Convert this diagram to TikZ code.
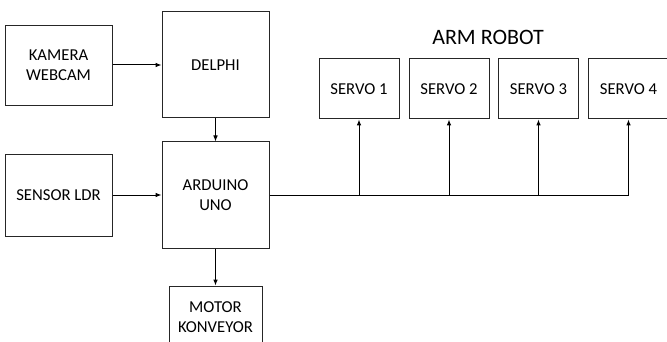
\documentclass[tikz,border=0pt]{standalone}
\usepackage{fontspec}
\setmainfont{Carlito}
\usetikzlibrary{arrows.meta}

\tikzset{every picture/.style={line width=0.75pt}}
\tikzset{
  blok/.style={draw=black!85, inner sep=0pt, align=center, font=\fontsize{12.5}{15}\selectfont},
  panah/.style={-{Latex[length=4.5pt,width=3.5pt]}},
}

\begin{document}
\begin{tikzpicture}[x=0.75pt,y=0.75pt,yscale=-1,xscale=1]
\useasboundingbox (0,0) rectangle (667,342);

%Shape: Rectangle [kamera]
\node [blok, minimum width=80.25pt, minimum height=60pt] (kamera) at (58.5,65.5) {KAMERA\\WEBCAM};
%Shape: Rectangle [delphi]
\node [blok, minimum width=80.25pt, minimum height=79.5pt] (delphi) at (215.5,65) {DELPHI};
%Shape: Rectangle [sensor]
\node [blok, minimum width=80.25pt, minimum height=60.75pt] (sensor) at (58.5,195.5) {SENSOR LDR};
%Shape: Rectangle [arduino]
\node [blok, minimum width=80.25pt, minimum height=79.5pt] (arduino) at (215.5,195) {ARDUINO\\UNO};
%Shape: Rectangle [motor]
\node [blok, minimum width=69.75pt, minimum height=46.5pt] (motor) at (215.5,317) {MOTOR\\KONVEYOR};
%Shape: Rectangle [servo 1-4]
\node [blok, minimum width=60pt, minimum height=45pt] (servo1) at (359,89) {SERVO 1};
\node [blok, minimum width=60pt, minimum height=45pt] (servo2) at (449,89) {SERVO 2};
\node [blok, minimum width=60pt, minimum height=45pt] (servo3) at (538.5,89) {SERVO 3};
\node [blok, minimum width=60pt, minimum height=45pt] (servo4) at (628.5,89) {SERVO 4};

% Text Node
\node [font=\fontsize{16.5}{20}\selectfont] (judul) at (488,37) {ARM ROBOT};

% Connection
\draw [panah] (kamera.east |- delphi.west) -- (delphi.west);
\draw [panah] (delphi.south) -- (arduino.north);
\draw [panah] (sensor.east |- arduino.west) -- (arduino.west);
\draw [panah] (arduino.south) -- (motor.north);
% Bus ke servo
\coordinate (bus4) at (servo4 |- arduino.east);
\draw (arduino.east) -- (bus4);
\foreach \i in {1,...,4}{
  \coordinate (bus\i) at (servo\i |- arduino.east);
  \draw [panah] (bus\i) -- (servo\i.south);
}

\end{tikzpicture}
\end{document}
